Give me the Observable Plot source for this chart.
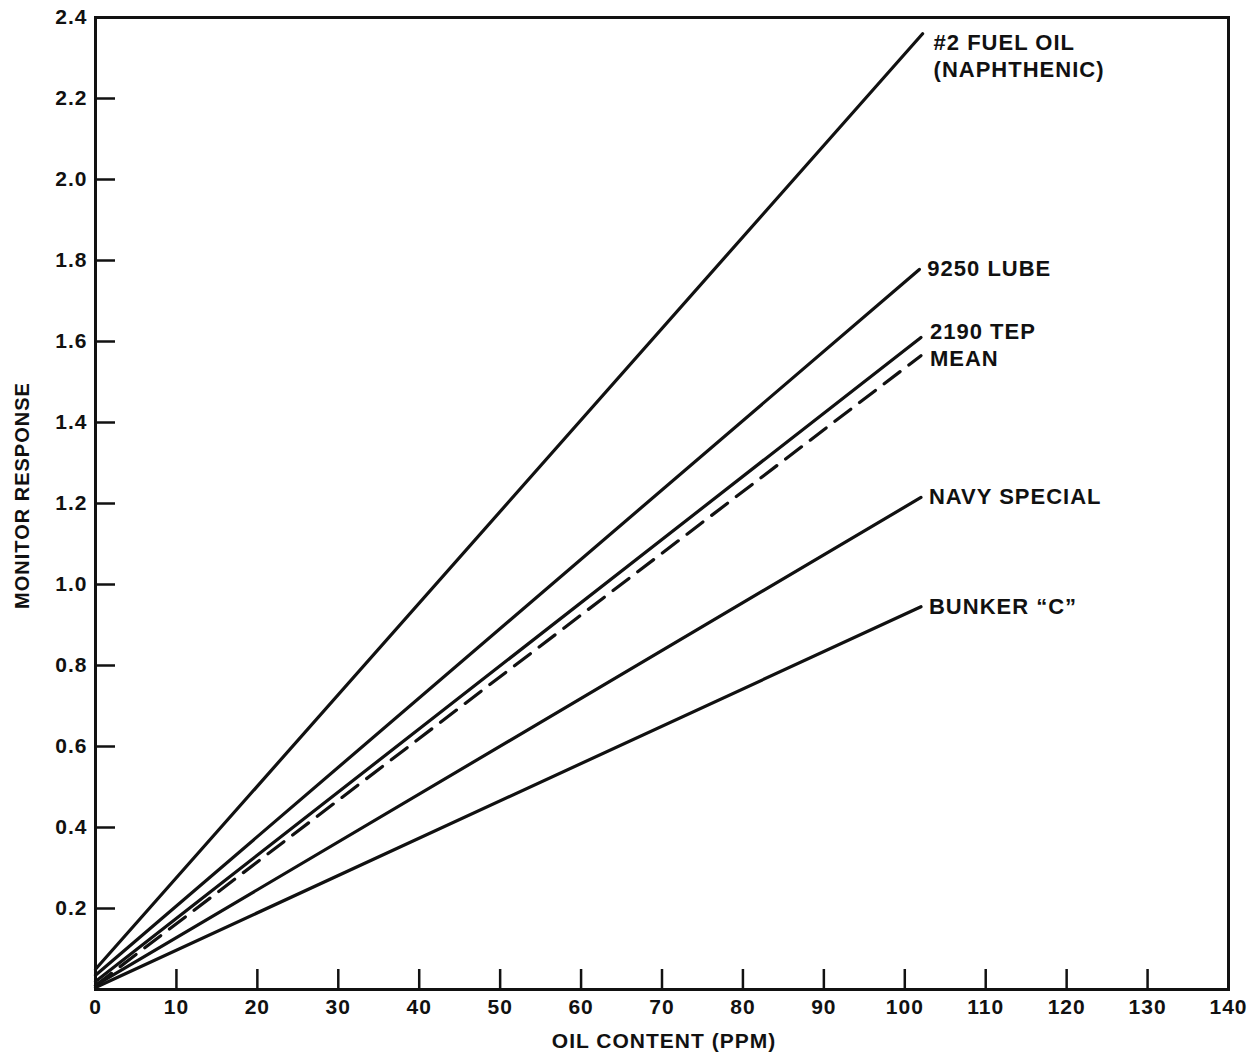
<!DOCTYPE html>
<html>
<head>
<meta charset="utf-8">
<script src="https://cdn.jsdelivr.net/npm/d3@7"></script>
<script src="https://cdn.jsdelivr.net/npm/@observablehq/plot@0.6"></script>
<style>
  html, body { margin: 0; padding: 0; background: #ffffff; }
  svg text { font-family: "Liberation Sans", Arial, sans-serif; font-weight: bold; letter-spacing: 1px; }
</style>
</head>
<body>
<div id="chart"></div>
<script>
// Series (straight response lines)
const oils   = ["#2 FUEL OIL\n(NAPHTHENIC)", "9250 LUBE", "2190 TEP", "MEAN", "NAVY SPECIAL", "BUNKER \u201CC\u201D"];
const xStart = [0, 0, 0, 0, 0, 0];
const yStart = [0.05, 0.035, 0.02, 0.01, 0.01, 0.005];
const xEnd   = [102.2, 101.8, 102, 102, 102, 102];
const yEnd   = [2.36, 1.778, 1.61, 1.565, 1.215, 0.945];
const dashed = [false, false, false, true, false, false];

// Ticks
const xTicks = [0, 10, 20, 30, 40, 50, 60, 70, 80, 90, 100, 110, 120, 130, 140];
const xTickMarks = [10, 20, 30, 40, 50, 60, 70, 80, 90, 100, 110, 120, 130];
const yTicks = [0.2, 0.4, 0.6, 0.8, 1.0, 1.2, 1.4, 1.6, 1.8, 2.0, 2.2, 2.4];
const yTickMarks = [0.2, 0.4, 0.6, 0.8, 1.0, 1.2, 1.4, 1.6, 1.8, 2.0, 2.2];

const segs = [];
oils.forEach((name, i) => {
  segs.push({name, x: xStart[i], y: yStart[i], dashed: dashed[i]});
  segs.push({name, x: xEnd[i], y: yEnd[i], dashed: dashed[i]});
});
const ends = oils.map((name, i) => ({name, x: xEnd[i], y: yEnd[i]}));

const textStyle = {fontSize: 22, fontWeight: "bold", fill: "#111", textAnchor: "start"};

const chart = Plot.plot({
  width: 1252,
  height: 1061,
  marginLeft: 95,
  marginRight: 24,
  marginTop: 17,
  marginBottom: 72,
  style: {background: "#ffffff", color: "#111", overflow: "visible"},
  x: {domain: [0, 140]},
  y: {domain: [0, 2.4]},
  marks: [
    // inward ticks
    Plot.axisX(xTickMarks, {tickSize: -20, tickFormat: () => "", strokeWidth: 2.5, label: null}),
    Plot.axisY(yTickMarks, {tickSize: -20, tickFormat: () => "", strokeWidth: 2.5, label: null}),
    // tick labels
    Plot.axisX(xTicks, {tickSize: 0, tickPadding: 10, fontSize: 21, fontWeight: "bold", label: null, tickFormat: d => String(d)}),
    Plot.axisY(yTicks, {tickSize: 0, tickPadding: 8, fontSize: 21, fontWeight: "bold", label: null, tickFormat: d => d.toFixed(1)}),
    Plot.frame({stroke: "#111", strokeWidth: 3}),
    // solid lines
    Plot.line(segs.filter(d => !d.dashed), {x: "x", y: "y", z: "name", stroke: "#111", strokeWidth: 3.2}),
    // dashed mean line
    Plot.line(segs.filter(d => d.dashed), {x: "x", y: "y", z: "name", stroke: "#111", strokeWidth: 3.2, strokeDasharray: "20,11"}),
    // labels
    Plot.text(ends.filter(d => d.name.startsWith("#2")), {x: "x", y: "y", text: "name", ...textStyle, lineAnchor: "top", lineHeight: 1.2, dx: 11, dy: -2}),
    Plot.text(ends.filter(d => ["9250 LUBE", "NAVY SPECIAL", "BUNKER \u201CC\u201D"].includes(d.name)), {x: "x", y: "y", text: "name", ...textStyle, dx: 8}),
    Plot.text(ends.filter(d => d.name === "2190 TEP"), {x: "x", y: "y", text: "name", ...textStyle, dx: 9, dy: -5}),
    Plot.text(ends.filter(d => d.name === "MEAN"), {x: "x", y: "y", text: "name", ...textStyle, dx: 9, dy: 3}),
    // axis titles
    Plot.text(["MONITOR RESPONSE"], {frameAnchor: "left", textAnchor: "middle", rotate: -90, dx: -73, dy: -8, fontSize: 20, fontWeight: "bold", fill: "#111"}),
    Plot.text(["OIL CONTENT (PPM)"], {frameAnchor: "bottom", dy: 58, dx: 2, fontSize: 21, fontWeight: "bold", fill: "#111"})
  ]
});
document.getElementById("chart").appendChild(chart);
</script>
</body>
</html>
